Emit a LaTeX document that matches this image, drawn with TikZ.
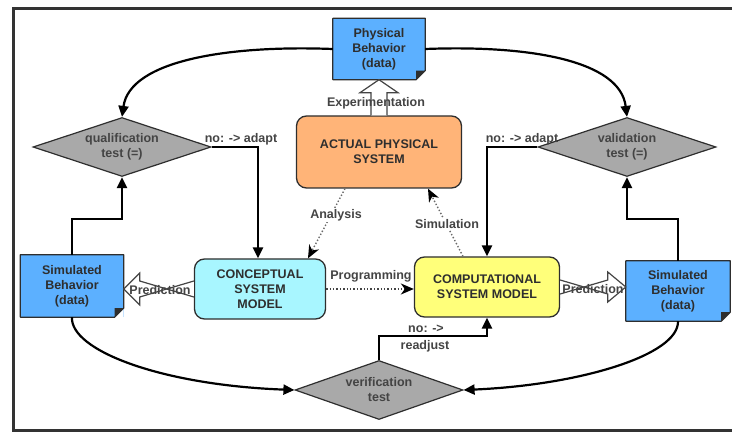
\documentclass[tikz,border=0pt]{standalone}
\usepackage{fontspec}
\setmainfont{Liberation Sans}
\usetikzlibrary{arrows.meta,shapes.geometric,calc}

\definecolor{docblue}{HTML}{5CB0FF}
\definecolor{physorange}{HTML}{FFB478}
\definecolor{conccyan}{HTML}{A8F6FF}
\definecolor{compyellow}{HTML}{FFFF7A}
\definecolor{testgray}{HTML}{A9A9A9}
\definecolor{ink}{HTML}{2E2E2E}
\definecolor{framecol}{HTML}{333333}
\definecolor{labelcol}{HTML}{444444}
\definecolor{dotcol}{HTML}{6A6A6A}

% folded-corner outline for a data document node
\newcommand{\foldeddoc}[1]{%
  \fill[white] (#1.south east) -- ([xshift=-9pt]#1.south east) -- ([yshift=9pt]#1.south east) -- cycle;
  \fill[ink] ([xshift=-9pt]#1.south east) -- ([yshift=9pt]#1.south east) -- ([xshift=-9pt,yshift=9pt]#1.south east) -- cycle;
  \draw[ink, line width=1.2pt, line join=round] (#1.north west) -- (#1.north east) -- ([yshift=9pt]#1.south east)
    -- ([xshift=-9pt]#1.south east) -- (#1.south west) -- cycle;
}

\begin{document}
\begin{tikzpicture}[x=1pt,y=-1pt,
  font=\fontsize{12.5}{15}\selectfont\bfseries,
  docbox/.style={fill=docblue, text=ink, align=center, inner sep=0pt},
  modelbox/.style={draw=ink, line width=1.3pt, rounded corners=10pt, text=ink, align=center, inner sep=0pt},
  testbox/.style={diamond, aspect=3, draw=ink, line width=1.2pt, fill=testgray, text=labelcol, align=center, inner sep=0pt},
  lbl/.style={text=labelcol, align=center, inner sep=1pt},
  conn/.style={line width=2.2pt, black, -{Triangle[length=11pt,width=10pt]}},
  dotconn/.style={line width=1.4pt, dotted, dotcol, -{Stealth[length=13pt,width=11pt,inset=4pt,color=black]}},
  hollow/.style={draw=labelcol, line width=1.2pt, fill=white, line join=miter}
]
\useasboundingbox (0,0) rectangle (732,433);
\begin{scope}
  \clip (0,0) rectangle (732,433);
  \draw[framecol, line width=3pt] (13,9) rectangle (760,430);
\end{scope}

% data documents
\node[docbox, minimum width=92pt, minimum height=61pt] (phys) at (379,49) {Physical\\Behavior\\(data)};
\foldeddoc{phys}
\node[docbox, minimum width=103pt, minimum height=62pt] (simL) at (72,286) {Simulated\\Behavior\\(data)};
\foldeddoc{simL}
\node[docbox, minimum width=104pt, minimum height=60pt] (simR) at (678,291) {Simulated\\Behavior\\(data)};
\foldeddoc{simR}

% models
\node[modelbox, fill=physorange, minimum width=165pt, minimum height=72pt] (actual) at (379,152) {ACTUAL PHYSICAL\\SYSTEM};
\node[modelbox, fill=conccyan, minimum width=131pt, minimum height=60pt] (concept) at (260,289) {CONCEPTUAL\\SYSTEM\\MODEL};
\node[modelbox, fill=compyellow, minimum width=145pt, minimum height=60pt] (comput) at (487,287) {COMPUTATIONAL\\SYSTEM MODEL};

% tests
\node[testbox, minimum width=178pt, minimum height=59pt] (qual) at (122,147) {qualification\\test (=)};
\node[testbox, minimum width=178pt, minimum height=59pt] (valid) at (627,147) {validation\\test (=)};
\node[testbox, minimum width=168pt, minimum height=59pt] (verif) at (379,390) {verification\\test};

% experimentation (hollow arrow)
\draw[hollow] ([xshift=-8pt]actual.north) -- ($(phys.south)+(-8,13)$) -- ($(phys.south)+(-19,13)$)
  -- (phys.south) -- ($(phys.south)+(19,13)$) -- ($(phys.south)+(8,13)$) -- ([xshift=8pt]actual.north);
\node[lbl] (lexp) at (376,103) {Experimentation};

% prediction (hollow arrows)
\coordinate (pl) at (simL.east |- concept.west);
\draw[hollow] ([yshift=-8pt]concept.west) -- ($(pl)+(16,-8)$) -- ($(pl)+(16,-16)$) -- (pl)
  -- ($(pl)+(16,16)$) -- ($(pl)+(16,8)$) -- ([yshift=8pt]concept.west);
\node[lbl] (lpredl) at (160,290) {Prediction};
\coordinate (pr) at (simR.west |- comput.east);
\draw[hollow] ([yshift=-7pt]comput.east) -- ($(pr)+(-18,-7)$) -- ($(pr)+(-18,-15)$) -- (pr)
  -- ($(pr)+(-18,15)$) -- ($(pr)+(-18,7)$) -- ([yshift=7pt]comput.east);
\node[lbl] (lpredr) at (593,289) {Prediction};

% data to tests
\draw[conn] (phys.west) .. controls (230,45) and (130,60) .. (qual.north);
\draw[conn] (phys.east) .. controls (528,45) and (620,60) .. (valid.north);
\draw[conn] (simL.north) -- ++(0,-36) -| (qual.south);
\draw[conn] (simR.north) -- ++(0,-42) -| (valid.south);
\draw[conn] (simL.south) .. controls (70,350) and (160,385) .. (verif.west);
\draw[conn] (simR.south) .. controls (679,355) and (580,385) .. (verif.east);

% feedback loops
\draw[conn] (qual.east) -| ([xshift=-2pt]concept.north);
\node[lbl] (ladaptl) at (241,139) {no: -> adapt};
\draw[conn] (valid.west) -| (comput.north);
\node[lbl] (ladaptr) at (522,139) {no: -> adapt};
\draw[conn] (verif.north) -- ++(0,-24) -| (comput.south);
\node[lbl] (lno) at (426,329) {no: ->};
\node[lbl] (lre) at (425,346) {readjust};

% dotted relations
\draw[dotconn] ([xshift=-34pt]actual.south) -- ([xshift=48pt]concept.north);
\node[lbl, fill=white] (lana) at (336,215) {Analysis};
\draw[dotconn] ([xshift=-24pt]comput.north) -- ([xshift=49pt]actual.south);
\node[lbl, fill=white] (lsim) at (447,224) {Simulation};
\draw[dotconn, labelcol, line width=2pt] (concept.east) -- (concept.east -| comput.west);
\node[lbl] (lprog) at (371,276) {Programming};
\end{tikzpicture}
\end{document}
